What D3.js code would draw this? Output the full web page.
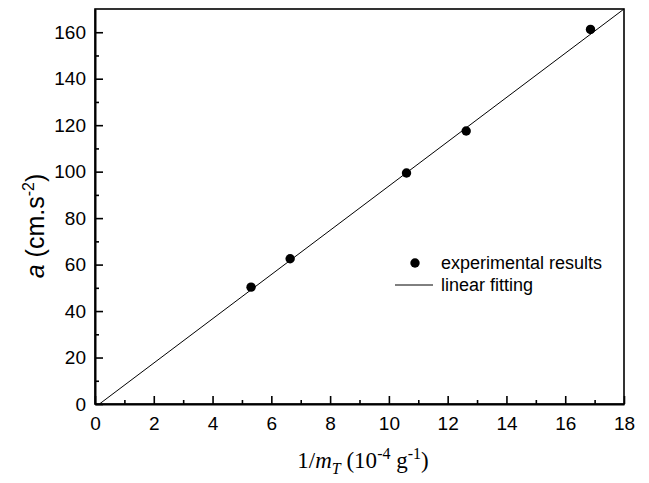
<!DOCTYPE html>
<html>
<head>
<meta charset="utf-8">
<script src="https://cdn.jsdelivr.net/npm/d3@7"></script>
<style>
  body { margin: 0; background: #fff; }
  svg { display: block; }
</style>
</head>
<body>
<svg width="649" height="483"></svg>
<script>
// measured points
var invMass = [5.31, 6.64, 10.6, 12.63, 16.86];
var accel = [50.3, 62.5, 99.4, 117.5, 161.2];
// fitted line end points
var fitX = [0.15, 18];
var fitY = [0, 170];
var xTicks = [0, 2, 4, 6, 8, 10, 12, 14, 16, 18];
var yTicks = [0, 20, 40, 60, 80, 100, 120, 140, 160];

var svg = d3.select('svg');
var plotLeft = 95, plotRight = 624, plotTop = 9, plotBottom = 404;
var font = 'Arial, "Liberation Sans", sans-serif';

var x = d3.scaleLinear().domain([0, 18]).range([plotLeft, plotRight]);
var y = d3.scaleLinear().domain([0, 170]).range([plotBottom, plotTop]);

// frame
svg.append('rect')
    .attr('x', plotLeft).attr('y', plotTop)
    .attr('width', plotRight - plotLeft).attr('height', plotBottom - plotTop)
    .style('fill', 'none').style('stroke', '#000').style('stroke-width', 1.6);

// x axis: minor ticks, then major ticks with labels (inside)
svg.append('g').attr('transform', 'translate(0,' + plotBottom + ')')
    .call(d3.axisBottom(x).tickValues(d3.range(1, 18, 2)).tickSize(-4).tickFormat(''))
    .call(function(g) { g.select('.domain').remove(); g.selectAll('line').style('stroke-width', 1.6); });
var xAxis = svg.append('g').attr('transform', 'translate(0,' + plotBottom + ')')
    .call(d3.axisBottom(x).tickValues(xTicks).tickSize(-8).tickSizeOuter(0).tickFormat(d3.format('d')));
xAxis.select('.domain').style('stroke-width', 2);
xAxis.selectAll('line').style('stroke-width', 1.6);
xAxis.selectAll('text').attr('y', 13).attr('dy', '0.71em')
    .style('font-family', font).style('font-size', '19px').style('fill', '#000');

svg.append('g').attr('transform', 'translate(' + plotLeft + ',0)')
    .call(d3.axisLeft(y).tickValues(d3.range(10, 170, 20)).tickSize(-4).tickFormat(''))
    .call(function(g) { g.select('.domain').remove(); g.selectAll('line').style('stroke-width', 1.6); });
var yAxis = svg.append('g').attr('transform', 'translate(' + plotLeft + ',0)')
    .call(d3.axisLeft(y).tickValues(yTicks).tickSize(-8).tickSizeOuter(0).tickFormat(d3.format('d')));
yAxis.select('.domain').style('stroke-width', 2);
yAxis.selectAll('line').style('stroke-width', 1.6);
yAxis.selectAll('text').attr('x', -9)
    .style('font-family', font).style('font-size', '19px').style('fill', '#000');

// linear fitting line
svg.append('line')
    .attr('x1', x(fitX[0])).attr('y1', y(fitY[0]))
    .attr('x2', x(fitX[1])).attr('y2', y(fitY[1]))
    .style('stroke', '#000').style('stroke-width', 1);

// experimental points
svg.selectAll('circle.pt')
    .data(invMass)
    .enter().append('circle')
    .attr('class', 'pt')
    .attr('cx', function(d) { return x(d); })
    .attr('cy', function(d, i) { return y(accel[i]); })
    .attr('r', 4.7)
    .style('fill', '#000');

// legend
svg.append('circle').attr('cx', 415).attr('cy', 263).attr('r', 4.7).style('fill', '#000');
svg.append('text').attr('x', 441).attr('y', 269)
    .style('font-family', font).style('font-size', '18px').text('experimental results');
svg.append('line').attr('x1', 395).attr('x2', 433).attr('y1', 285).attr('y2', 285)
    .style('stroke', '#000').style('stroke-width', 1);
svg.append('text').attr('x', 441).attr('y', 291)
    .style('font-family', font).style('font-size', '18px').text('linear fitting');

// y label
var yl = svg.append('text')
    .attr('transform', 'translate(44,226) rotate(-90)')
    .attr('text-anchor', 'middle')
    .style('font-family', font).style('font-size', '25px');
yl.append('tspan').style('font-style', 'italic').text('a');
yl.append('tspan').text(' (cm.s');
yl.append('tspan').attr('dy', -10).style('font-size', '16px').text('-2');
yl.append('tspan').attr('dy', 10).text(')');

// x label
var xl = svg.append('text')
    .attr('x', 363).attr('y', 468)
    .attr('text-anchor', 'middle')
    .style('font-family', '"Liberation Serif", "Times New Roman", serif').style('font-size', '23px');
xl.append('tspan').text('1/');
xl.append('tspan').style('font-style', 'italic').text('m');
xl.append('tspan').attr('dy', 6).style('font-style', 'italic').style('font-size', '16px').text('T');
xl.append('tspan').attr('dy', -6).text(' (10');
xl.append('tspan').attr('dy', -9).style('font-size', '16px').text('-4');
xl.append('tspan').attr('dy', 9).text(' g');
xl.append('tspan').attr('dy', -9).style('font-size', '16px').text('-1');
xl.append('tspan').attr('dy', 9).text(')');
</script>
</body>
</html>
